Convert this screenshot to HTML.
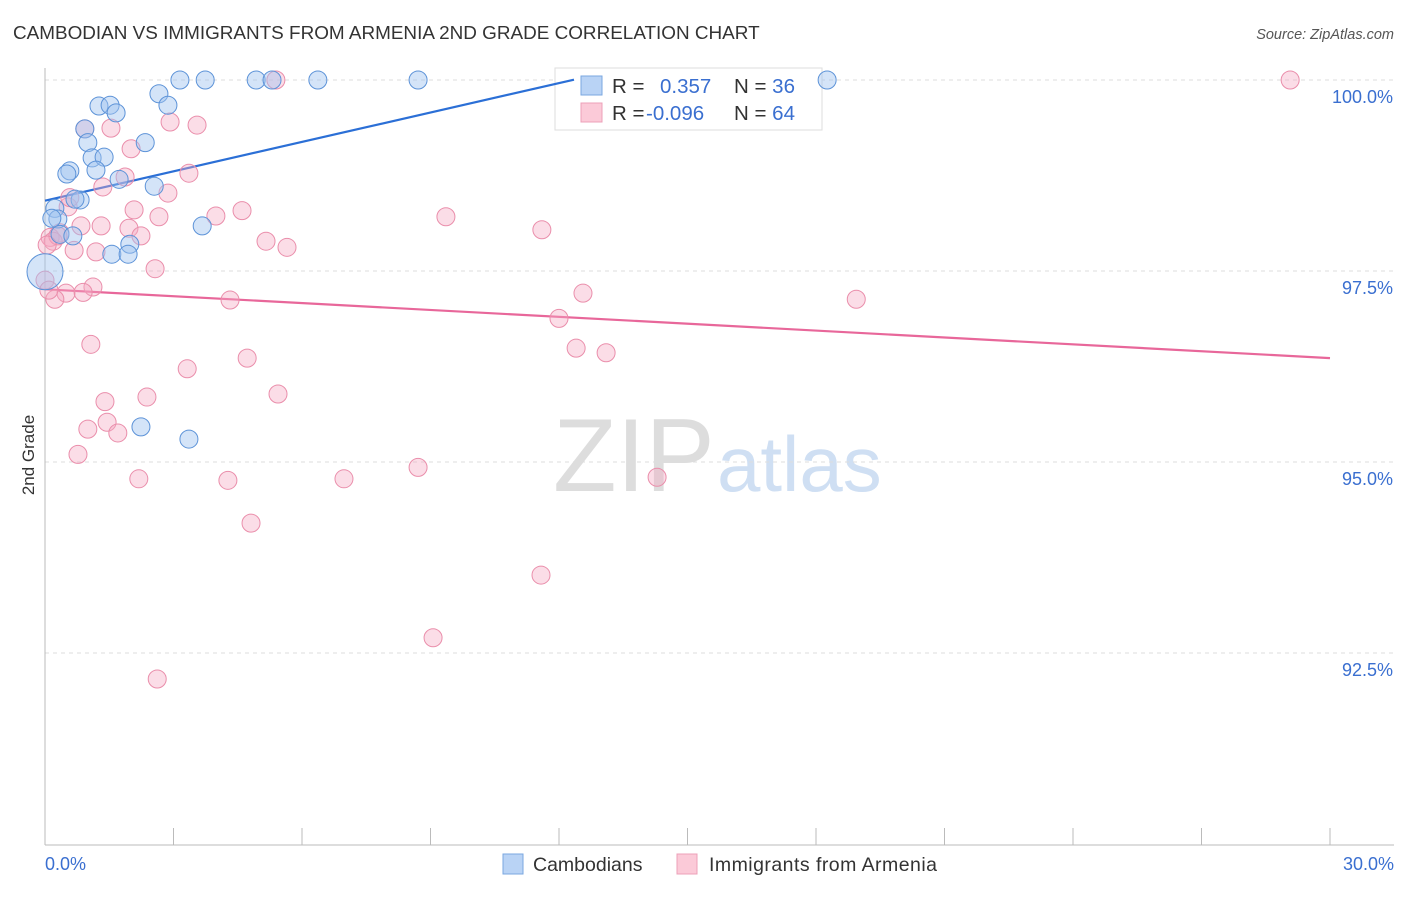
<!DOCTYPE html>
<html><head><meta charset="utf-8"><style>
body{margin:0;background:#fff;font-family:"Liberation Sans",sans-serif;}
svg text{font-family:"Liberation Sans",sans-serif;}
</style></head><body>
<svg id="chart" width="1406" height="892">
<text x="13" y="39" font-size="18.9" fill="#333">CAMBODIAN VS IMMIGRANTS FROM ARMENIA 2ND GRADE CORRELATION CHART</text>
<text x="1394" y="39" font-size="14.5" fill="#555" font-style="italic" text-anchor="end">Source: ZipAtlas.com</text>
<text transform="translate(34,455) rotate(-90)" font-size="17" fill="#333" text-anchor="middle">2nd Grade</text>
<g>
<text x="553" y="491" font-size="104" fill="#ddd" font-family="Liberation Serif,serif">ZIP</text>
<text x="717" y="491" font-size="78" fill="#cfdff3">atlas</text>
</g>
<g id="grid"></g><g id="axes"></g>
<g>
<rect x="555" y="68" width="267" height="62" fill="#fff" stroke="#ddd"/>
<rect x="581" y="76" width="21" height="19" fill="#b9d3f5" stroke="#7aa7e0"/>
<rect x="581" y="103" width="21" height="19" fill="#fbcad8" stroke="#eca0b8"/>
<text x="612" y="93" font-size="20.5" fill="#333">R = <tspan fill="#3a6fd0" x="660">0.357</tspan></text>
<text x="734" y="93" font-size="20.5" fill="#333">N = <tspan fill="#3a6fd0">36</tspan></text>
<text x="612" y="120" font-size="20.5" fill="#333">R = <tspan fill="#3a6fd0" x="646">-0.096</tspan></text>
<text x="734" y="120" font-size="20.5" fill="#333">N = <tspan fill="#3a6fd0">64</tspan></text>
</g>
<g id="trends"></g><g id="pts"></g>
<g>
<rect x="503" y="854" width="20" height="20" fill="#b9d3f5" stroke="#7aa7e0"/>
<text x="533" y="871" font-size="19.5" fill="#333">Cambodians</text>
<rect x="677" y="854" width="20" height="20" fill="#fbcad8" stroke="#eca0b8"/>
<text x="709" y="871" font-size="19.5" fill="#333" textLength="228">Immigrants from Armenia</text>
</g>
</svg>
<script>
const blueX=[3.15,3.74,4.93,5.30,6.37,8.71,18.26,2.66,2.87,1.26,1.52,1.66,0.93,1.00,2.34,1.10,1.38,1.19,0.58,0.51,1.73,2.55,0.82,0.70,0.23,0.30,0.16,3.67,0.35,0.65,1.98,1.56,1.94,0,2.24,3.36];
const blueY=[100,100,100,100,100,100,100,99.82,99.67,99.66,99.67,99.57,99.36,99.18,99.18,98.98,98.99,98.82,98.81,98.77,98.70,98.61,98.43,98.44,98.32,98.18,98.19,98.09,97.98,97.96,97.85,97.72,97.72,97.49,95.46,95.30];
const pinkX=[5.39,29.07,.93,1.54,2.92,3.55,2.01,3.36,1.87,1.35,2.87,.54,.58,2.08,4.60,3.99,2.66,9.36,.84,1.31,1.96,11.60,.35,.12,2.24,.19,5.16,5.65,1.19,.68,2.57,0,.49,1.12,.89,.23,4.32,12.56,18.94,12.00,1.07,12.40,13.10,4.72,3.32,5.44,2.38,1.40,1.45,1.00,1.70,.77,2.19,4.27,6.98,8.71,14.29,4.81,11.58,9.06,2.62,.09,.30,.05];
const pinkY=[100,100,99.36,99.37,99.45,99.41,99.10,98.78,98.73,98.60,98.52,98.34,98.46,98.30,98.29,98.22,98.21,98.21,98.09,98.09,98.06,98.04,98.00,97.94,97.96,97.89,97.89,97.81,97.75,97.77,97.53,97.38,97.21,97.29,97.22,97.13,97.12,97.21,97.13,96.88,96.54,96.49,96.43,96.36,96.22,95.89,95.85,95.79,95.52,95.43,95.38,95.10,94.78,94.76,94.78,94.93,94.80,94.20,93.52,92.70,92.16,97.25,97.96,97.84];
const yTicks=[100,97.5,95,92.5];
const yTickLabels=["100.0%","97.5%","95.0%","92.5%"];
const xTicks=[0,3,6,9,12,15,18,21,24,27,30];
const blueTrend=[98.42,0.1283];
const pinkTrend=[97.26,-0.030];
const sx=v=>45+v/30*1285, sy=v=>80+(100-v)/2.5*191;
const NS="http://www.w3.org/2000/svg";
function mk(p,t,a){const e=document.createElementNS(NS,t);for(const k in a)e.setAttribute(k,a[k]);document.getElementById(p).appendChild(e);return e;}
yTicks.forEach((t,i)=>{
 const l=mk('grid','line',{x1:45,x2:1394,y1:sy(t),y2:sy(t),stroke:'#ddd','stroke-dasharray':'4,4'});
 
 
 const tx=mk('grid','text',{x:1393,y:sy(t)+23,'font-size':18,fill:'#3a6fd0','text-anchor':'end'});
 tx.textContent=yTickLabels[i];
 
 
});
let a=mk('axes','line',{x1:45,x2:45,y1:68,y2:845,stroke:'#bbb'});


a=mk('axes','line',{x1:45,x2:1394,y1:845,y2:845,stroke:'#bbb'});


xTicks.forEach(t=>{const l=mk('axes','line',{x1:sx(t),x2:sx(t),y1:828,y2:845,stroke:'#bbb'});
 
 });
let xl=mk('axes','text',{x:45,y:870,'font-size':18,fill:'#3a6fd0'});xl.textContent='0.0%';


xl=mk('axes','text',{x:1394,y:870,'font-size':18,fill:'#3a6fd0','text-anchor':'end'});xl.textContent='30.0%';


pinkX.forEach((x,i)=>{const c=mk('pts','circle',{cx:sx(x),cy:sy(pinkY[i]),r:9,fill:'rgba(246,170,195,0.4)',stroke:'#ea8eab','stroke-width':1});
 
 });
blueX.forEach((x,i)=>{const c=mk('pts','circle',{cx:sx(x),cy:sy(blueY[i]),r:i==33?18:9,fill:'rgba(160,195,240,0.45)',stroke:'#5d93d8','stroke-width':1});
 
 });
let tl=mk('trends','line',{x1:sx(0),y1:sy(blueTrend[0]),x2:sx(12.35),y2:sy(blueTrend[0]+blueTrend[1]*12.35),stroke:'#2b6fd6','stroke-width':2.2});


tl=mk('trends','line',{x1:sx(0),y1:sy(pinkTrend[0]),x2:sx(30),y2:sy(pinkTrend[0]+pinkTrend[1]*30),stroke:'#e8679a','stroke-width':2.2});


</script>
</body></html>
